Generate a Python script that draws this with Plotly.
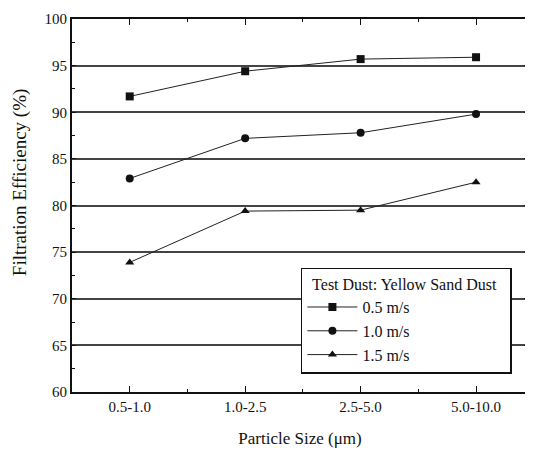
import plotly.graph_objects as go

categories = ["0.5-1.0", "1.0-2.5", "2.5-5.0", "5.0-10.0"]
x_pos = [0, 1, 2, 3]
eff_05 = [91.7, 94.4, 95.7, 95.9]
eff_10 = [82.9, 87.2, 87.8, 89.8]
eff_15 = [73.9, 79.4, 79.5, 82.5]
series_names = ["0.5 m/s", "1.0 m/s", "1.5 m/s"]
symbols = ["square", "circle", "triangle-up"]

fig = go.Figure()
for name, ys, sym in zip(series_names, [eff_05, eff_10, eff_15], symbols):
    fig.add_trace(go.Scatter(
        x=x_pos, y=ys, name=name, mode="lines+markers",
        line=dict(color="#222", width=1),
        marker=dict(symbol=sym, size=8, color="#111"),
    ))

font = "Liberation Serif"
fig.update_layout(
    width=525, height=452,
    margin=dict(l=64, r=3, t=8, b=68),
    plot_bgcolor="white", paper_bgcolor="white",
    font=dict(family=font, color="#111", size=14),
    showlegend=True,
    legend=dict(
        x=0.502, y=0.333, xanchor="left", yanchor="top",
        bordercolor="#111", borderwidth=1.5, bgcolor="white",
        title=dict(text="  Test Dust: Yellow Sand Dust   ", font=dict(size=16, family=font)),
        font=dict(size=16, family=font),
        tracegroupgap=0, itemwidth=50,
    ),
    xaxis=dict(
        range=[-0.5, 3.45], tickvals=x_pos, ticktext=categories,
        showgrid=False, zeroline=False,
        showline=True, linecolor="#111", linewidth=2, mirror="ticks",
        ticks="inside", ticklen=6, tickcolor="#111",
        minor=dict(dtick=0.5, tick0=0, ticks="inside", ticklen=3, tickcolor="#111"),
        title=dict(text="Particle Size (μm)", font=dict(size=17, family=font), standoff=18),
        tickfont=dict(size=15, family=font),
    ),
    yaxis=dict(
        range=[60, 100], dtick=5, tick0=60,
        showgrid=True, gridcolor="#444", gridwidth=1.5, zeroline=False,
        showline=True, linecolor="#111", linewidth=2, mirror="ticks",
        ticks="inside", ticklen=4, tickcolor="#111",
        minor=dict(dtick=2.5, ticks="inside", ticklen=3, tickcolor="#111"),
        tickfont=dict(size=15, family=font),
    ),
    annotations=[dict(
        text="Filtration Efficiency (%)", textangle=-90,
        xref="paper", yref="paper", x=-0.114, y=0.56,
        xanchor="center", yanchor="middle", showarrow=False,
        font=dict(size=19, family=font),
    )],
)

fig.write_html("out.html")
